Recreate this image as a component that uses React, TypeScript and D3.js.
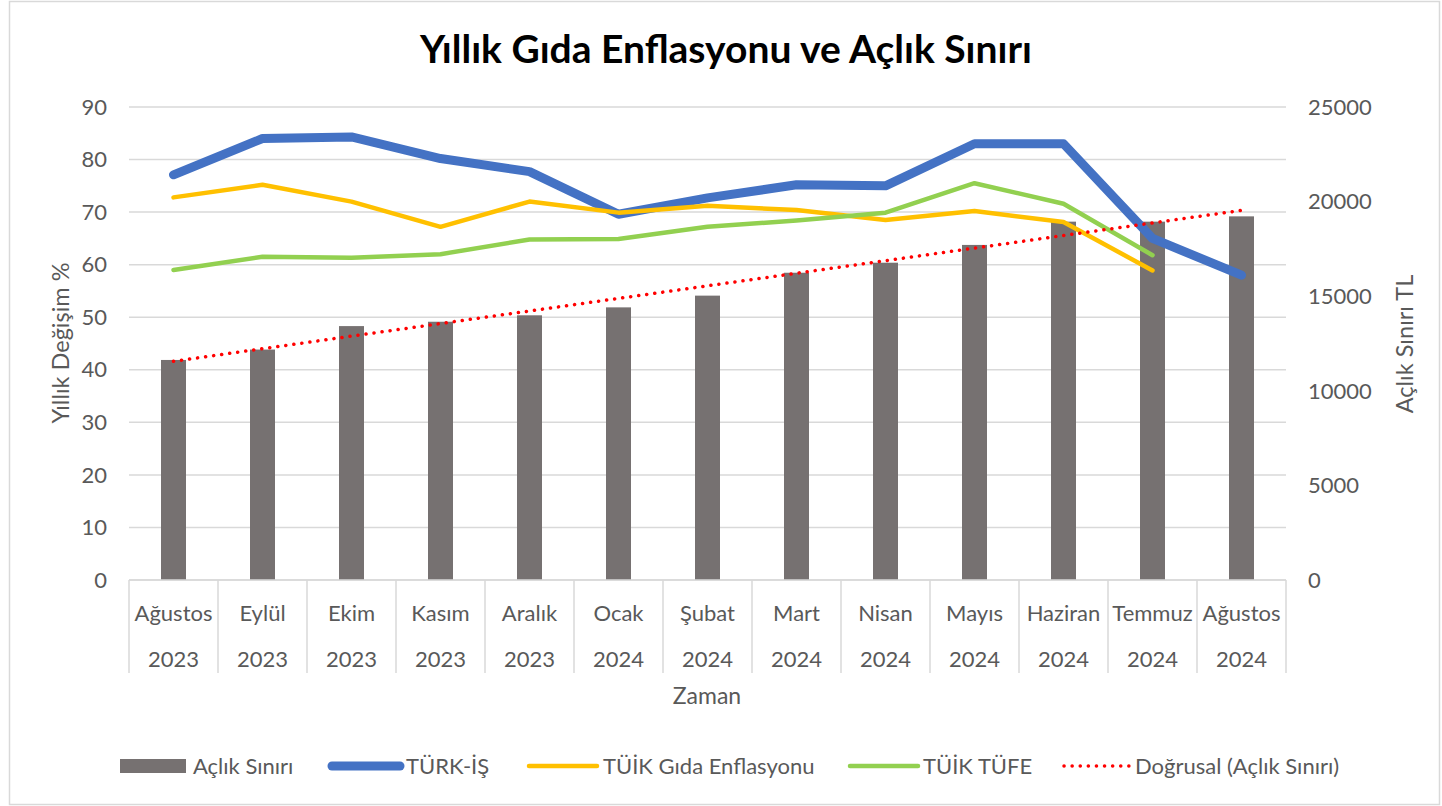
import * as d3 from "d3"

// Kategoriler
const months = ["Ağustos", "Eylül", "Ekim", "Kasım", "Aralık", "Ocak", "Şubat", "Mart", "Nisan", "Mayıs", "Haziran", "Temmuz", "Ağustos"]
const years = ["2023", "2023", "2023", "2023", "2023", "2024", "2024", "2024", "2024", "2024", "2024", "2024", "2024"]

// Seriler
const aclikSiniri = [11630, 12180, 13420, 13650, 13990, 14410, 15030, 16240, 16770, 17710, 18940, 18940, 19220]
const turkIs = [77.1, 84.0, 84.3, 80.2, 77.7, 69.6, 72.7, 75.2, 75.0, 83.0, 83.0, 65.0, 58.0]
const tuikGida = [72.8, 75.2, 72.0, 67.2, 72.0, 69.9, 71.2, 70.4, 68.5, 70.2, 68.1, 58.9]
const tuikTufe = [59.0, 61.5, 61.3, 62.0, 64.8, 64.9, 67.2, 68.4, 69.9, 75.5, 71.6, 61.8]

const leftTicks = [0, 10, 20, 30, 40, 50, 60, 70, 80, 90]
const rightTicks = [0, 5000, 10000, 15000, 20000, 25000]

const W = 1442
const H = 806
const plot = { left: 129, right: 1286, top: 107, bottom: 580 }
const FONT = "Lato, 'Open Sans', sans-serif"
const TXT = "#595959"
const GRID = "#D9D9D9"

export default function App() {
  const keys = months.map((_, i) => String(i))
  const x = d3.scaleBand<string>().domain(keys).range([plot.left, plot.right]).padding(0)
  const yL = d3.scaleLinear().domain([0, 90]).range([plot.bottom, plot.top])
  const yR = d3.scaleLinear().domain([0, 25000]).range([plot.bottom, plot.top])
  const cx = (i: number) => (x(String(i)) ?? 0) + x.bandwidth() / 2
  const barW = 25

  const line = d3
    .line<number>()
    .x((_, i) => cx(i))
    .y((d) => yL(d))

  // Doğrusal eğilim (en küçük kareler)
  const n = aclikSiniri.length
  const xs = aclikSiniri.map((_, i) => i + 1)
  const mx = d3.mean(xs) as number
  const my = d3.mean(aclikSiniri) as number
  const slope =
    d3.sum(xs, (v, i) => (v - mx) * (aclikSiniri[i] - my)) / d3.sum(xs, (v) => (v - mx) * (v - mx))
  const icpt = my - slope * mx
  const trend = [icpt + slope * 1, icpt + slope * n]

  const legend = [
    { label: "Açlık Sınırı", kind: "bar", color: "#767171", x: 120, tx: 193 },
    { label: "TÜRK-İŞ", kind: "line", color: "#4472C4", w: 9, x: 328, tx: 406 },
    { label: "TÜİK Gıda Enflasyonu", kind: "line", color: "#FFC000", w: 4.5, x: 525, tx: 603 },
    { label: "TÜİK TÜFE", kind: "line", color: "#92D050", w: 4.5, x: 846, tx: 923 },
    { label: "Doğrusal (Açlık Sınırı)", kind: "dot", color: "#FF0000", x: 1062, tx: 1135 },
  ]
  const legY = 766
  const fs = 22

  return (
    <div style={{ position: "absolute", left: 0, top: 0 }}>
      <svg width={W} height={H} style={{ display: "block", background: "#fff" }} fontFamily={FONT}>
        <rect x={9.5} y={1.5} width={1430} height={803} fill="#fff" stroke={GRID} strokeWidth={1.5} />

        <text x={726} y={63} textAnchor="middle" fontSize={39} fontWeight="bold" fill="#000">
          Yıllık Gıda Enflasyonu ve Açlık Sınırı
        </text>

        {/* ızgara */}
        {leftTicks.map((t) => (
          <line key={t} x1={plot.left} x2={plot.right} y1={yL(t)} y2={yL(t)} stroke={GRID} strokeWidth={1.5} />
        ))}

        {/* sol eksen */}
        {leftTicks.map((t) => (
          <text key={t} x={107} y={yL(t)} dy="0.35em" textAnchor="end" fontSize={fs} fill={TXT}>
            {t}
          </text>
        ))}
        {/* sağ eksen */}
        {rightTicks.map((t) => (
          <text key={t} x={1308} y={yR(t)} dy="0.35em" textAnchor="start" fontSize={fs} fill={TXT}>
            {t}
          </text>
        ))}

        <text transform="translate(69,343) rotate(-90)" textAnchor="middle" fontSize={23.5} fill={TXT}>
          Yıllık Değişim %
        </text>
        <text transform="translate(1413,344) rotate(-90)" textAnchor="middle" fontSize={23.5} fill={TXT}>
          Açlık Sınırı TL
        </text>

        {/* çubuklar */}
        {aclikSiniri.map((v, i) => (
          <rect key={i} x={cx(i) - barW / 2} y={yR(v)} width={barW} height={yR(0) - yR(v)} fill="#767171" />
        ))}

        {/* kategori ekseni */}
        <line x1={plot.left} x2={plot.right} y1={plot.bottom} y2={plot.bottom} stroke={GRID} strokeWidth={1.5} />
        {keys.concat(["end"]).map((k, i) => {
          const xx = i < keys.length ? (x(k) as number) : plot.right
          return <line key={k} x1={xx} x2={xx} y1={plot.bottom} y2={673} stroke={GRID} strokeWidth={1.5} />
        })}
        {months.map((m, i) => (
          <text key={i} x={cx(i)} y={613} dy="0.35em" textAnchor="middle" fontSize={fs} fill={TXT}>
            {m}
          </text>
        ))}
        {years.map((yv, i) => (
          <text key={i} x={cx(i)} y={659} dy="0.35em" textAnchor="middle" fontSize={fs} fill={TXT}>
            {yv}
          </text>
        ))}
        <text x={707} y={696} dy="0.35em" textAnchor="middle" fontSize={23} fill={TXT}>
          Zaman
        </text>

        {/* çizgiler */}
        <path d={line(turkIs) ?? ""} fill="none" stroke="#4472C4" strokeWidth={9} strokeLinejoin="round" strokeLinecap="round" />
        <path d={line(tuikGida) ?? ""} fill="none" stroke="#FFC000" strokeWidth={4.5} strokeLinejoin="round" strokeLinecap="round" />
        <path d={line(tuikTufe) ?? ""} fill="none" stroke="#92D050" strokeWidth={4.5} strokeLinejoin="round" strokeLinecap="round" />
        <line
          x1={cx(0)}
          x2={cx(n - 1)}
          y1={yR(trend[0])}
          y2={yR(trend[1])}
          stroke="#FF0000"
          strokeWidth={3.5}
          strokeDasharray="0.1 8"
          strokeLinecap="round"
        />

        {/* lejant */}
        {legend.map((d) => (
          <g key={d.label}>
            {d.kind === "bar" && <rect x={d.x} y={legY - 7} width={66} height={14} fill={d.color} />}
            {d.kind === "line" && (
              <line x1={d.x + 4} x2={d.x + 72} y1={legY} y2={legY} stroke={d.color} strokeWidth={d.w} strokeLinecap="round" />
            )}
            {d.kind === "dot" && (
              <line x1={d.x + 2} x2={d.x + 68} y1={legY} y2={legY} stroke={d.color} strokeWidth={3.5} strokeDasharray="0.1 8" strokeLinecap="round" />
            )}
            <text x={d.tx} y={legY} dy="0.35em" fontSize={fs} fill={TXT}>
              {d.label}
            </text>
          </g>
        ))}
      </svg>
    </div>
  )
}
